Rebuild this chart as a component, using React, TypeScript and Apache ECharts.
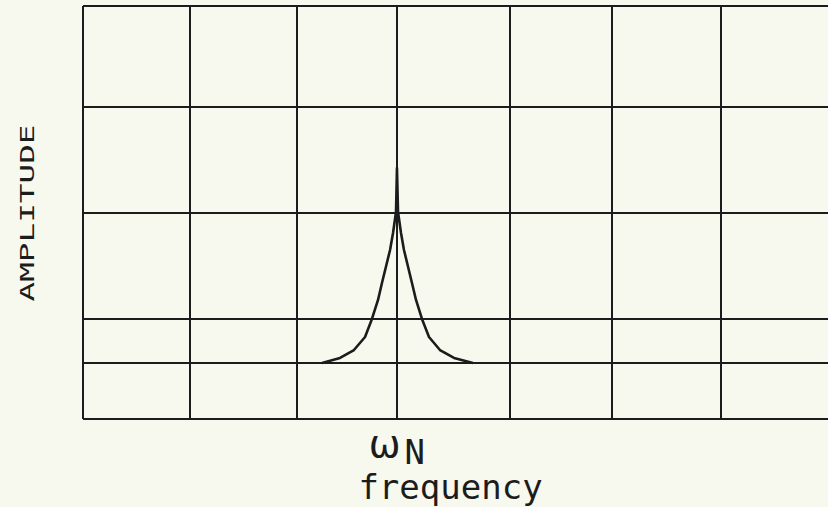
import React, { useEffect, useRef } from "react";
import * as echarts from "echarts";

// Hand-drawn grid line positions (in axis units)
const xGridLines = [0, 1.005, 2.01, 2.95, 4.01, 4.97, 5.99];
const yGridLines = [0, 0.542, 0.969, 2.005, 3.02, 4];

// Resonance curve
const curveX = [2.246, 2.415, 2.546, 2.65, 2.715, 2.772, 2.809, 2.885, 2.913, 2.941, 2.95,
  2.96, 2.988, 3.016, 3.091, 3.129, 3.185, 3.251, 3.354, 3.486, 3.664];
const curveY = [0.542, 0.591, 0.668, 0.794, 0.969, 1.153, 1.317, 1.637, 1.801, 2.005, 2.431,
  2.005, 1.801, 1.637, 1.317, 1.153, 0.969, 0.794, 0.668, 0.591, 0.542];

const tickValues = [2.95];
const xName = "frequency";
const yName = "AMPLITUDE";

export default function App() {
  const ref = useRef<HTMLDivElement>(null);
  useEffect(() => {
    if (!ref.current) return;
    const chart = echarts.init(ref.current, null, { renderer: "svg" });
    const ink = "#1c1c1c";
    chart.setOption({
      animation: false,
      backgroundColor: "#f7f8ee",
      grid: { left: 83, top: 6, right: 0, bottom: 88, containLabel: false, outerBoundsMode: "none" },
      xAxis: {
        type: "value",
        min: 0,
        max: 7,
        axisLine: { show: false },
        axisTick: { show: false },
        splitLine: { show: false },
        axisLabel: {
          customValues: tickValues,
          margin: 6,
          formatter: () => "{w|ω}{n|N}",
          rich: {
            w: { fontFamily: "DejaVu Sans", fontSize: 38, color: ink, verticalAlign: "top", lineHeight: 30, padding: [0, 4, 0, 0] },
            n: { fontFamily: "DejaVu Sans Mono", fontSize: 34, color: ink, verticalAlign: "bottom", lineHeight: 44 },
          },
        },
        name: xName,
        nameLocation: "middle",
        nameGap: 51,
        nameMoveOverlap: false,
        nameTextStyle: { fontFamily: "DejaVu Sans Mono", fontSize: 34, color: ink, padding: [0, 10, 0, 0] },
      },
      yAxis: {
        type: "value",
        min: 0,
        max: 4,
        axisLine: { show: false },
        axisTick: { show: false },
        splitLine: { show: false },
        axisLabel: { show: false },
      },
      graphic: [
        {
          type: "text",
          x: 27,
          y: 213,
          rotation: Math.PI / 2,
          scaleX: 1.72,
          style: {
            text: yName,
            fontFamily: "DejaVu Sans Mono",
            fontSize: 19,
            fill: ink,
            align: "center",
            verticalAlign: "middle",
          },
        },
      ],
      series: [
        {
          type: "line",
          data: curveX.map((x, i) => [x, curveY[i]]),
          showSymbol: false,
          smooth: false,
          lineStyle: { color: ink, width: 2.6, join: "round" },
          z: 5,
          markLine: {
            silent: true,
            symbol: "none",
            label: { show: false },
            lineStyle: { color: ink, width: 2, type: "solid" },
            data: [
              ...xGridLines.map((v) => ({ xAxis: v })),
              ...yGridLines.map((v) => ({ yAxis: v })),
            ],
          },
        },
      ],
    });
    return () => chart.dispose();
  }, []);
  return (
    <div
      ref={ref}
      style={{ position: "fixed", left: 0, top: 0, width: 828, height: 507 }}
    />
  );
}
